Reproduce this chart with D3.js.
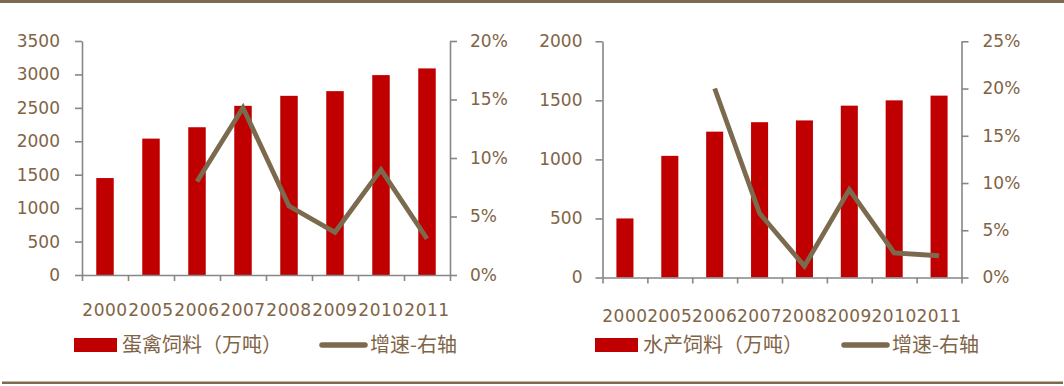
<!DOCTYPE html>
<html>
<head>
<meta charset="utf-8">
<script src="https://cdn.jsdelivr.net/npm/d3@7"></script>
<style>
  body { margin: 0; background: #fff; }
  svg { display: block; }
  text { fill: #7f6446; }
</style>
</head>
<body>
<svg id="chart" width="1064" height="386"></svg>
<script>
// data
var years = ["2000", "2005", "2006", "2007", "2008", "2009", "2010", "2011"];

var poultryFeed = [1450, 2040, 2210, 2530, 2680, 2750, 2990, 3090];
var poultryGrowth = [null, null, 8.0, 14.3, 5.9, 3.65, 9.0, 3.1];
var poultryTicks = [0, 500, 1000, 1500, 2000, 2500, 3000, 3500];
var poultryPctTicks = [0, 5, 10, 15, 20];

var aquaFeed = [500, 1030, 1235, 1315, 1330, 1455, 1500, 1540];
var aquaGrowth = [null, null, 20.0, 6.8, 1.2, 9.3, 2.6, 2.3];
var aquaTicks = [0, 500, 1000, 1500, 2000];
var aquaPctTicks = [0, 5, 10, 15, 20, 25];

var barName1 = "蛋禽饲料（万吨）";
var barName2 = "水产饲料（万吨）";
var lineName = "增速-右轴";

var RED = "#c00000", BROWN = "#7b6a4e", GREY = "#868686";
var svg = d3.select("#chart");

// top / bottom rules
svg.append("rect").attr("x", 0).attr("y", 0).attr("width", 1064).attr("height", 3).attr("fill", "#7d6a4f");
svg.append("rect").attr("x", 2).attr("y", 381.5).attr("width", 1061).attr("height", 2.5).attr("fill", "#7d6a4f");

function drawPanel(p) {
    var g = svg.append("g");
    var x = d3.scaleBand().domain(p.cats).range([p.x0, p.x1]);
    var xi = d3.scaleLinear().domain([0, p.cats.length]).range([p.x0, p.x1]);
    var y = d3.scaleLinear().domain([0, d3.max(p.ticks)]).range([p.y0, p.y1]);
    var y2 = d3.scaleLinear().domain([0, d3.max(p.pctTicks)]).range([p.y0, p.y1]);

    // bars
    var bw = x.bandwidth() * 0.38;
    g.selectAll("rect.bar").data(p.values).enter().append("rect")
        .attr("x", function (d, i) { return x(p.cats[i]) + (x.bandwidth() - bw) / 2; })
        .attr("y", function (d) { return y(d); })
        .attr("width", bw)
        .attr("height", function (d) { return p.y0 - y(d); })
        .attr("fill", RED);

    // axes
    var la = g.append("g").attr("transform", "translate(" + p.x0 + ",0)")
        .call(d3.axisLeft(y).tickValues(p.ticks).tickSize(7).tickPadding(p.padL).tickSizeOuter(0)
            .tickFormat(d3.format("d")));
    var ra = g.append("g").attr("transform", "translate(" + p.x1 + ",0)")
        .call(d3.axisRight(y2).tickValues(p.pctTicks).tickSize(7).tickPadding(p.padR).tickSizeOuter(0)
            .tickFormat(function (d) { return d + "%"; }));
    var ba = g.append("g").attr("transform", "translate(0," + p.y0 + ")")
        .call(d3.axisBottom(xi).tickValues(d3.range(p.cats.length + 1)).tickSize(6).tickSizeOuter(0)
            .tickFormat(""));
    [la, ra, ba].forEach(function (a) {
        a.selectAll("path, line").attr("stroke", GREY).attr("stroke-width", 1.6);
        a.selectAll("text").attr("font-family", "DejaVu Sans").attr("font-size", 17).attr("fill", "#7f6446");
    });

    // x labels at band centres
    g.selectAll("text.xl").data(p.cats).enter().append("text")
        .attr("x", function (d) { return x(d) + x.bandwidth() / 2; })
        .attr("y", p.y0 + p.labelOff)
        .attr("dy", "0.35em")
        .attr("text-anchor", "middle")
        .attr("font-family", "DejaVu Sans").attr("font-size", 17).attr("letter-spacing", 0.5)
        .text(function (d) { return d; });

    // growth line
    var line = d3.line()
        .defined(function (d) { return d != null; })
        .x(function (d, i) { return x(p.cats[i]) + x.bandwidth() / 2; })
        .y(function (d) { return y2(d); });
    g.append("path").datum(p.growth)
        .attr("d", line)
        .attr("fill", "none").attr("stroke", BROWN).attr("stroke-width", 4.8)
        .attr("stroke-linejoin", "miter");

    // legend
    var lg = g.append("g").attr("font-family", "Noto Sans CJK SC").attr("font-size", 20);
    lg.append("rect").attr("x", p.legX).attr("y", 338).attr("width", 43).attr("height", 14).attr("fill", RED);
    lg.append("text").attr("x", p.legX + 48).attr("y", 345).attr("dy", "0.36em").text(p.barName);
    lg.append("line").attr("x1", p.legX2).attr("x2", p.legX2 + 43).attr("y1", 345).attr("y2", 345)
        .attr("stroke", BROWN).attr("stroke-width", 5.5).attr("stroke-linecap", "round");
    lg.append("text").attr("x", p.legX2 + 48).attr("y", 345).attr("dy", "0.36em").text(lineName);
}

drawPanel({
    cats: years, values: poultryFeed, growth: poultryGrowth,
    ticks: poultryTicks, pctTicks: poultryPctTicks, barName: barName1,
    x0: 82, x1: 450, y0: 275, y1: 41, padL: 15, padR: 13, labelOff: 35,
    legX: 74, legX2: 322
});

drawPanel({
    cats: years, values: aquaFeed, growth: aquaGrowth,
    ticks: aquaTicks, pctTicks: aquaPctTicks, barName: barName2,
    x0: 602.5, x1: 961.5, y0: 277.5, y1: 41.3, padL: 13, padR: 14, labelOff: 38.5,
    legX: 595, legX2: 844
});
</script>
</body>
</html>
